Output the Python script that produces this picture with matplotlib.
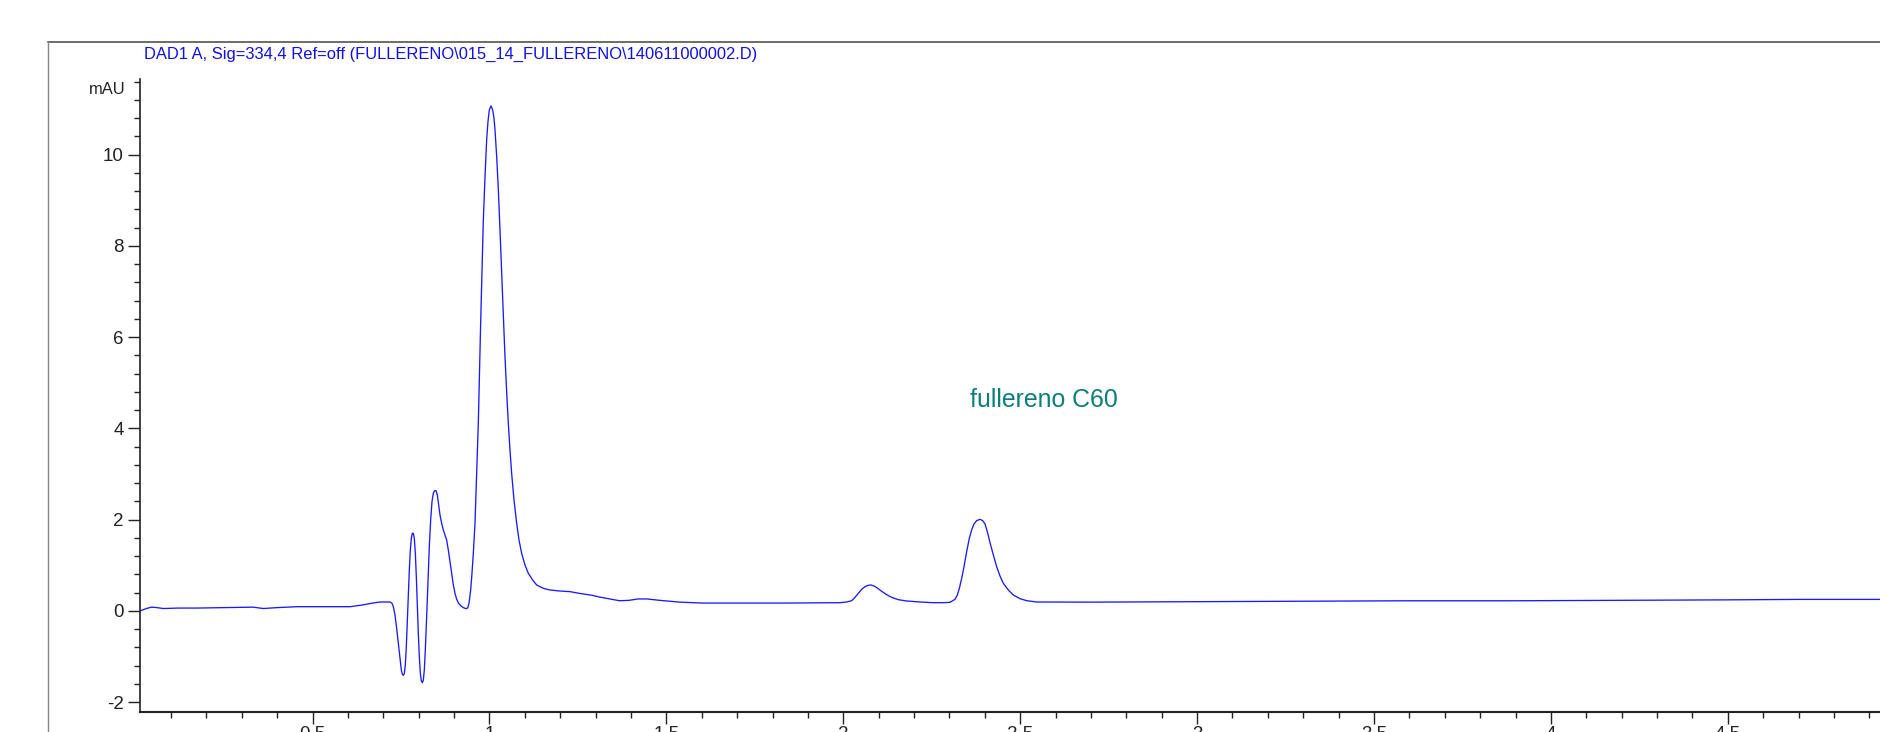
import matplotlib
matplotlib.use("Agg")
import matplotlib.pyplot as plt
from matplotlib import font_manager
from matplotlib.lines import Line2D
from matplotlib.ticker import MultipleLocator, FixedLocator

plt.rcParams["axes.unicode_minus"] = False

# ---------------- data ----------------
time_min = [
    0.0133, 0.030, 0.045, 0.060, 0.078, 0.120, 0.172, 0.250, 0.332, 0.361,
    0.400, 0.455, 0.550, 0.606, 0.643, 0.670, 0.6905, 0.7188, 0.7244, 0.7282,
    0.7329, 0.7376, 0.7423, 0.7470, 0.7508, 0.7536, 0.7565, 0.7593, 0.7621, 0.7649,
    0.7678, 0.7706, 0.7734, 0.7762, 0.7791, 0.7819, 0.7847, 0.7875, 0.7904, 0.7932,
    0.7960, 0.7988, 0.8017, 0.8045, 0.8073, 0.8101, 0.8130, 0.8158, 0.8186, 0.8224,
    0.8262, 0.8299, 0.8337, 0.8375, 0.8412, 0.8450, 0.8488, 0.8526, 0.8563, 0.8601,
    0.8648, 0.8695, 0.8742, 0.8789, 0.8836, 0.8884, 0.8931, 0.8978, 0.9025, 0.9072,
    0.9129, 0.9195, 0.9261, 0.9336, 0.9383, 0.9421, 0.9468, 0.9505, 0.9543, 0.9590,
    0.9637, 0.9684, 0.9712, 0.9750, 0.9788, 0.9823, 0.9873, 0.9920, 0.9957, 0.9995,
    1.0042, 1.0090, 1.0127, 1.0156, 1.0203, 1.0250, 1.0297, 1.0344, 1.0391, 1.0438,
    1.0485, 1.0532, 1.0579, 1.0626, 1.0692, 1.0768, 1.0834, 1.0909, 1.1003, 1.1097,
    1.1220, 1.1333, 1.1521, 1.1710, 1.1992, 1.2275, 1.256, 1.290, 1.312, 1.340,
    1.368, 1.395, 1.420, 1.445, 1.480, 1.538, 1.600, 1.651, 1.750, 1.840,
    1.9907, 2.0095, 2.0237, 2.0331, 2.0425, 2.0519, 2.0613, 2.0707, 2.0783, 2.0868,
    2.0962, 2.1084, 2.1226, 2.1367, 2.1555, 2.1791, 2.2168, 2.2545, 2.2827, 2.3016,
    2.3157, 2.3223, 2.3280, 2.3346, 2.3412, 2.3487, 2.3562, 2.3628, 2.3694, 2.3770,
    2.3864, 2.3940, 2.4005, 2.4071, 2.4147, 2.4241, 2.4335, 2.4429, 2.4523, 2.4665,
    2.4806, 2.4995, 2.5183, 2.5466, 2.700, 3.000, 3.300, 3.600, 3.900, 4.200,
    4.500, 4.700, 4.933,
]
absorbance_mAU = [
    0.00, 0.05, 0.08, 0.07, 0.05, 0.06, 0.06, 0.07, 0.08, 0.05,
    0.07, 0.09, 0.09, 0.09, 0.13, 0.17, 0.193, 0.193, 0.164, 0.091,
    -0.092, -0.384, -0.713, -1.042, -1.298, -1.393, -1.415, -1.371, -1.189, -0.787,
    -0.202, 0.383, 0.895, 1.333, 1.589, 1.699, 1.699, 1.589, 1.260, 0.748,
    0.091, -0.494, -1.006, -1.371, -1.532, -1.576, -1.518, -1.298, -0.860, -0.129,
    0.675, 1.406, 1.991, 2.393, 2.576, 2.634, 2.634, 2.539, 2.320, 2.101,
    1.918, 1.772, 1.662, 1.553, 1.333, 1.077, 0.822, 0.566, 0.383, 0.252,
    0.164, 0.105, 0.069, 0.047, 0.061, 0.164, 0.456, 0.822, 1.260, 1.918,
    3.015, 4.111, 5.061, 6.304, 7.401, 8.497, 9.521, 10.325, 10.727, 10.982,
    11.070, 10.982, 10.800, 10.544, 9.959, 9.228, 8.351, 7.401, 6.487, 5.573,
    4.806, 4.111, 3.526, 3.015, 2.430, 1.918, 1.553, 1.260, 1.004, 0.822,
    0.675, 0.566, 0.493, 0.456, 0.434, 0.420, 0.38, 0.34, 0.30, 0.26,
    0.22, 0.23, 0.26, 0.26, 0.23, 0.19, 0.17, 0.17, 0.17, 0.17,
    0.178, 0.193, 0.222, 0.295, 0.383, 0.471, 0.529, 0.559, 0.566, 0.544,
    0.500, 0.427, 0.354, 0.295, 0.244, 0.215, 0.193, 0.178, 0.178, 0.186,
    0.252, 0.346, 0.493, 0.712, 0.968, 1.297, 1.589, 1.772, 1.904, 1.977,
    2.006, 1.977, 1.904, 1.735, 1.494, 1.224, 0.968, 0.763, 0.602, 0.456,
    0.346, 0.266, 0.222, 0.193, 0.19, 0.20, 0.21, 0.22, 0.22, 0.23,
    0.24, 0.25, 0.25,
]

title_text = "DAD1 A, Sig=334,4 Ref=off (FULLERENO\\015_14_FULLERENO\\140611000002.D)"
peak_label = "fullereno C60"
peak_label_pos = (2.358, 4.62)
y_major_ticks = [-2, 0, 2, 4, 6, 8, 10]
x_major_ticks = [0.5, 1, 1.5, 2, 2.5, 3, 3.5, 4, 4.5]
x_tick_labels = ["0.5", "1", "1.5", "2", "2.5", "3", "3.5", "4", "4.5"]
y_unit = "mAU"

# ---------------- fonts ----------------
names = {f.name for f in font_manager.fontManager.ttflist}
narrow = "Liberation Sans Narrow" if "Liberation Sans Narrow" in names else "Liberation Sans"
narrow_scale = 1.0 if narrow == "Liberation Sans Narrow" else 0.915
regular = "Liberation Sans"

W, H = 1881, 732
fig = plt.figure(figsize=(W / 100, H / 100), dpi=100)

left_px, right_px = 140.4, 1881.0
bottom_px, top_px = 711.6, 79.0
ax = fig.add_axes([left_px / W, 1 - bottom_px / H,
                   (right_px - left_px) / W, (bottom_px - top_px) / H])

ax.plot(time_min, absorbance_mAU, color="#1a1aff", lw=0.95,
        solid_joinstyle="round", antialiased=True)

ax.set_xlim(0.0133, 4.933)
ax.set_ylim(-2.21, 11.66)

for s in ("top", "right"):
    ax.spines[s].set_visible(False)
ax.spines["left"].set_linewidth(1.2)
ax.spines["bottom"].set_linewidth(1.5)
ax.spines["left"].set_color("#222222")
ax.spines["bottom"].set_color("#222222")

ax.xaxis.set_major_locator(FixedLocator(x_major_ticks))
ax.set_xticklabels(x_tick_labels)
ax.xaxis.set_minor_locator(MultipleLocator(0.1))
ax.yaxis.set_major_locator(FixedLocator(y_major_ticks))
ax.yaxis.set_minor_locator(FixedLocator([-2 + 0.4 * i for i in range(35)]))

ax.tick_params(axis="both", which="major", length=8.5, width=1.0, color="#222222",
               labelsize=13.5, labelcolor="#222222", pad=3.5)
ax.tick_params(axis="both", which="minor", length=4.2, width=1.0, color="#222222")
ax.tick_params(axis="x", which="major", pad=2)
for lab in ax.get_xticklabels() + ax.get_yticklabels():
    lab.set_fontfamily(regular)

ax.text(-15 / (right_px - left_px), 11.42, y_unit, transform=ax.get_yaxis_transform(),
        ha="right", va="center", fontsize=13 * narrow_scale, family=narrow, color="#222222")

ax.text(peak_label_pos[0], peak_label_pos[1], peak_label, ha="left", va="center",
        fontsize=19.6 * narrow_scale, family=narrow, color="#0b7d7d")

fig.text(144 / W, 1 - 54 / H, title_text, ha="left", va="center",
         fontsize=13 * narrow_scale, family=narrow, color="#1010ee")

frame_x, frame_y = 48 / W, 1 - 42 / H
fig.add_artist(Line2D([frame_x, 1.0], [frame_y, frame_y], transform=fig.transFigure,
                      color="#444444", lw=1.1))
fig.add_artist(Line2D([frame_x, frame_x], [frame_y, 0.0], transform=fig.transFigure,
                      color="#888888", lw=1.0))

fig.savefig("out.png", dpi=100)
